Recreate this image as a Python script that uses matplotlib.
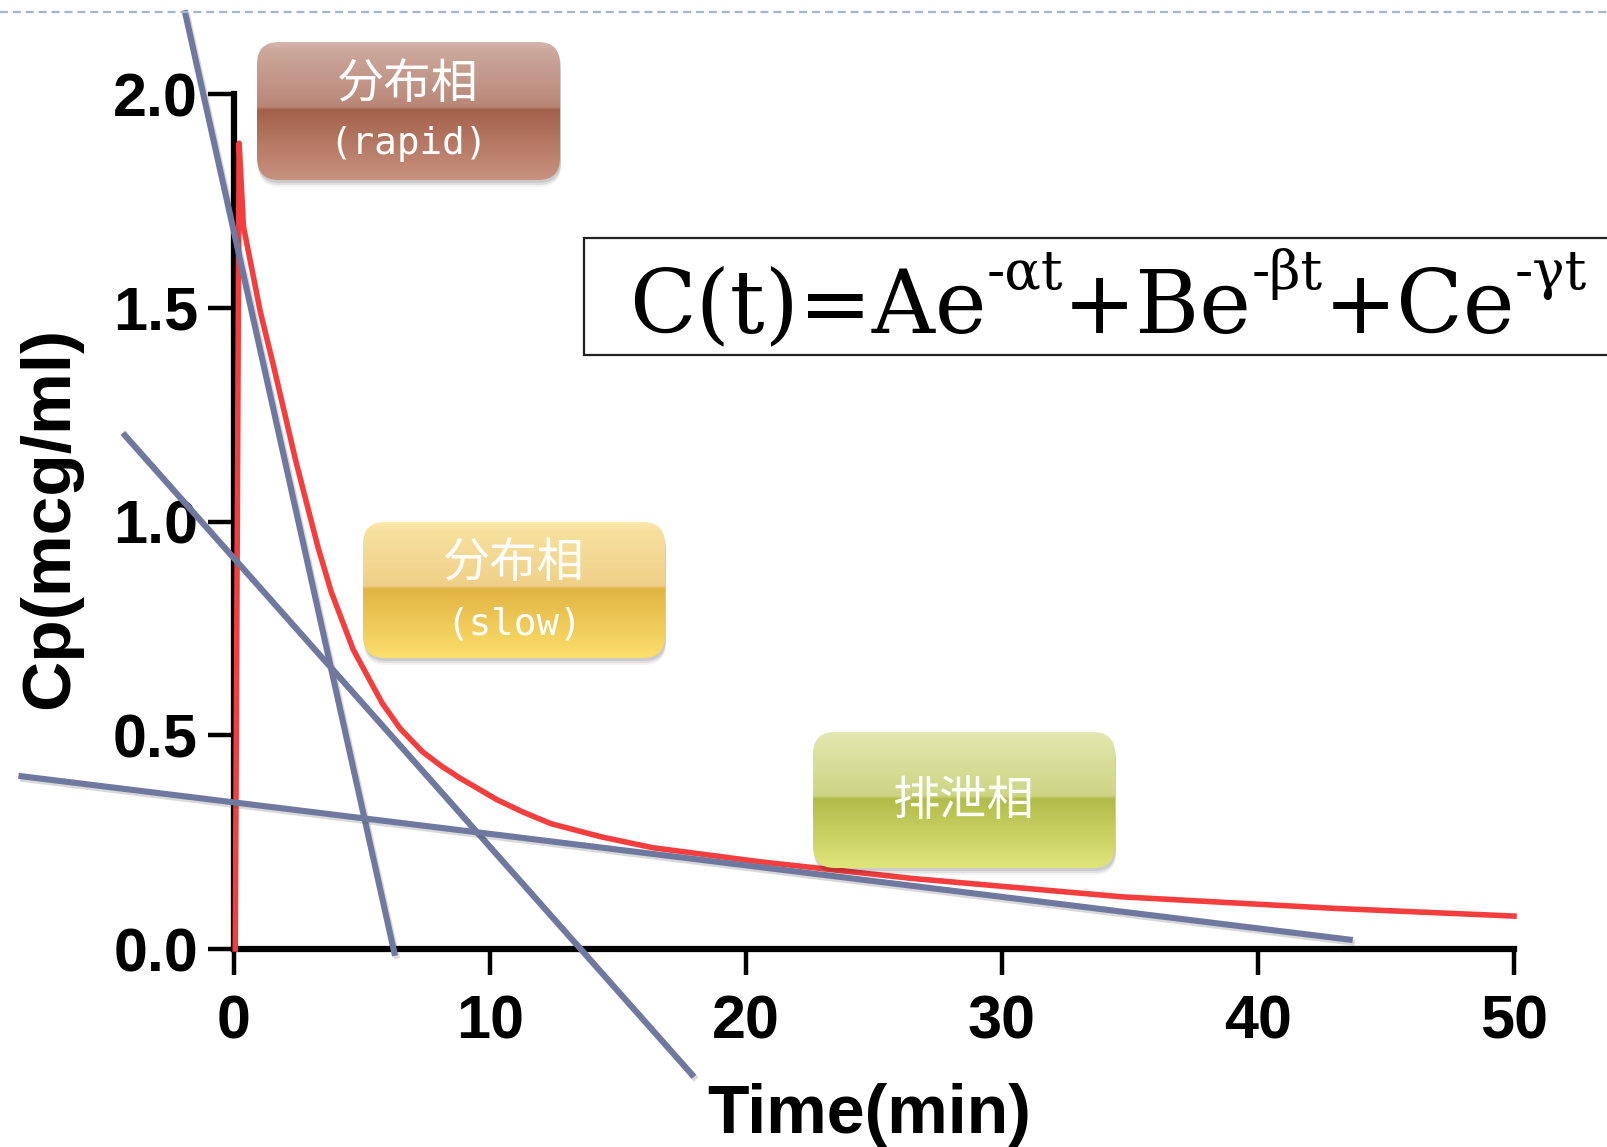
import numpy as np
import matplotlib
matplotlib.use('Agg')
import matplotlib.pyplot as plt
import matplotlib.patheffects as pe
from matplotlib.patches import FancyBboxPatch, Rectangle
from matplotlib.colors import to_rgb

plt.rcParams['font.family'] = ['Liberation Sans', 'DejaVu Sans']

# plasma concentration (mcg/ml) vs time (min)
t_curve = [0.05, 0.2, 0.37, 1.03, 1.56, 2.42, 3.28, 3.80, 4.66, 5.79, 6.5, 7.37,
           8.1, 8.82, 10.28, 11.3, 12.39, 14.37, 16.35, 20.55, 26.5, 34.7, 43.0, 50.0]
c_curve = [0.0, 1.885, 1.69, 1.49, 1.36, 1.14, 0.94, 0.835, 0.70, 0.575, 0.515, 0.461,
           0.428, 0.400, 0.349, 0.320, 0.293, 0.262, 0.237, 0.204, 0.165, 0.122, 0.095, 0.077]

# straight lines for the three phases (end points)
rapid_t = [-1.93, 6.29]
rapid_c = [2.196, -0.016]
slow_t = [-4.34, 17.97]
slow_c = [1.207, -0.299]
elim_t = [-8.42, 43.7]
elim_c = [0.405, 0.021]

x_ticks = [0, 10, 20, 30, 40, 50]
y_ticks = [0.0, 0.5, 1.0, 1.5, 2.0]
y_tick_labels = ['0.0', '0.5', '1.0', '1.5', '2.0']

phase_names = ['分布相', '分布相', '排泄相']
phase_notes = ['(rapid)', '(slow)', '']

# formula pieces: (text, is superscript)
formula = [('C(t)=Ae', False), ('-αt', True), ('+Be', False),
           ('-βt', True), ('+Ce', False), ('-γt', True)]

W, H = 1608, 1147
fig = plt.figure(figsize=(W / 100, H / 100), dpi=100)
ax = fig.add_axes([234 / W, 1 - 949 / H, 1280 / W, 855 / H])

ax.plot(t_curve, c_curve, color='#f43e3e', lw=4.0, clip_on=False, zorder=3,
        solid_joinstyle='round')
shadow = [pe.SimpleLineShadow(offset=(1.5, -2), alpha=0.2, shadow_color='#444'), pe.Normal()]
for tt, cc in [(rapid_t, rapid_c), (slow_t, slow_c), (elim_t, elim_c)]:
    ax.plot(tt, cc, color='#6f79a0', lw=4.4, clip_on=False, zorder=4,
            solid_capstyle='butt', path_effects=shadow)

ax.set_xlim(0, 50)
ax.set_ylim(0, 2)
for s in ['top', 'right']:
    ax.spines[s].set_visible(False)
for s in ['left', 'bottom']:
    ax.spines[s].set_linewidth(4.5)
    ax.spines[s].set_capstyle('projecting')
ax.set_xticks(x_ticks)
ax.set_xticklabels([str(v) for v in x_ticks], fontweight='bold')
ax.set_yticks(y_ticks)
ax.set_yticklabels(y_tick_labels, fontweight='bold')
ax.tick_params(direction='out', length=19, width=3.2, labelsize=44)
ax.tick_params(axis='x', pad=14)
ax.tick_params(axis='y', pad=7)

fig.text(50 / W, 1 - 518 / H, 'Cp(mcg/ml)', rotation=90, fontsize=50,
         fontweight='bold', ha='center', va='center')
fig.text(869 / W, 1 - 1133 / H, 'Time(min)', fontsize=49, fontweight='bold',
         ha='center', va='baseline')

# overlay in pixel coordinates for the boxes
ov = fig.add_axes([0, 0, 1, 1], zorder=5)
ov.axis('off')
ov.set_xlim(0, W)
ov.set_ylim(H, 0)

ov.plot([0, W], [12, 12], color='#a3b6cc', lw=1.6, dashes=(3.6, 2.2))


def glossy_box(x0, y0, w, h, colors):
    style = 'round,pad=0,rounding_size=22'
    for k, a in [(7, 0.05), (5, 0.07), (3, 0.09)]:
        ov.add_patch(FancyBboxPatch((x0 + 1, y0 + k), w, h, boxstyle=style,
                                    fc='black', ec='none', alpha=a, zorder=1))
    box = FancyBboxPatch((x0, y0), w, h, boxstyle=style, fc='none', ec='none', zorder=1)
    ov.add_patch(box)
    pos = np.linspace(0, 1, 300)
    stops = [0, 0.06, 0.47, 0.49, 1]
    rgb = np.array([to_rgb(c) for c in colors])
    img = np.column_stack([np.interp(pos, stops, rgb[:, i]) for i in range(3)])
    im = ov.imshow(img[:, None, :], extent=[x0, x0 + w, y0 + h, y0],
                   origin='upper', aspect='auto', interpolation='bilinear', zorder=2)
    im.set_clip_path(box)


box_specs = [
    (257, 42, 303, 138, ['#d8b6ac', '#cca89c', '#b98676', '#a4614b', '#c8927f'], 408),
    (363, 522, 302, 136, ['#fbe9b0', '#f7e09e', '#f0d088', '#e1b443', '#fcdf6c'], 514),
    (813, 732, 302, 136, ['#e4e9b6', '#dfe5a8', '#cdd585', '#b0bc4a', '#e0e57a'], 964),
]
text_y = [(85, 144), (564, 625), (802, None)]

for i, (x0, y0, w, h, cols, cx) in enumerate(box_specs):
    glossy_box(x0, y0, w, h, cols)
    ny, sy = text_y[i]
    ov.text(cx, ny, phase_names[i], family=['Noto Sans CJK SC'], fontsize=34,
            color='white', ha='center', va='center', zorder=3)
    if phase_notes[i]:
        ov.text(cx, sy, phase_notes[i], family=['DejaVu Sans Mono'], fontsize=27,
                color='white', ha='center', va='center', zorder=3)

# formula box
ov.add_patch(Rectangle((584, 238), 1100, 117, fc='white', ec='#222222', lw=1.6, zorder=2))

renderer = fig.canvas.get_renderer()
base = 63
parts = []
for s, sup in formula:
    parts.append((ov.text(0, 0, s, family='DejaVu Serif', zorder=3,
                          fontsize=base * (0.62 if sup else 1.0),
                          ha='left', va='baseline'), sup))
widths = [p.get_window_extent(renderer).width for p, _ in parts]
scale = (1587 - 629) / sum(widths)
x = 629
for (p, sup), wd in zip(parts, widths):
    p.set_fontsize(p.get_fontsize() * scale)
    p.set_position((x, 333 - (44 * scale if sup else 0)))
    x += wd * scale

fig.savefig('out.png', dpi=100)
